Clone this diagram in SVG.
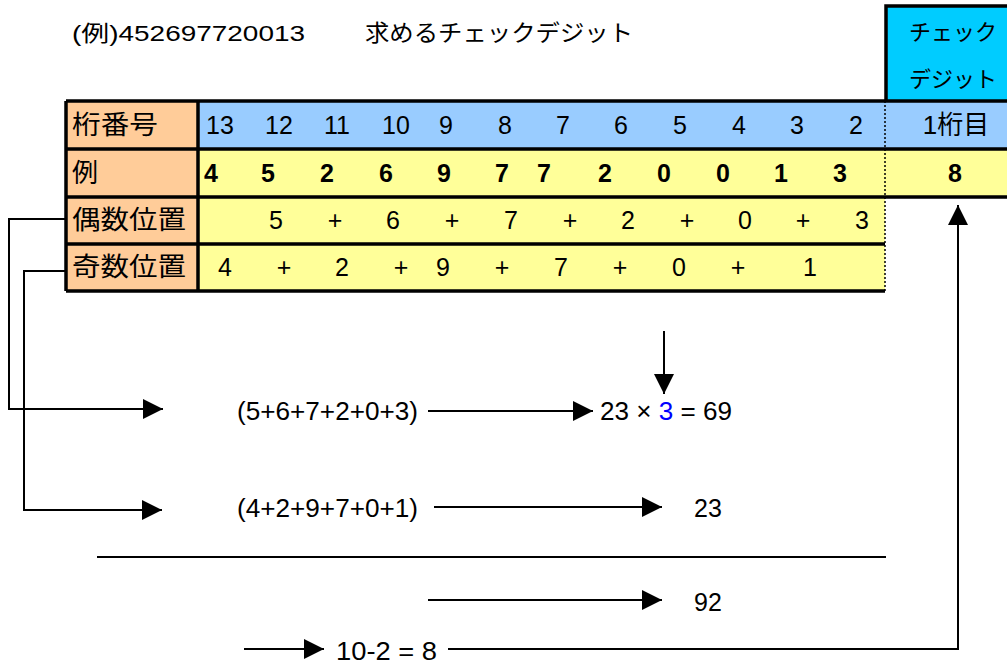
<svg xmlns="http://www.w3.org/2000/svg" width="1007" height="664" viewBox="0 0 1007 664">
<defs>
<style>
text{font-family:"Liberation Sans","Noto Sans CJK JP",sans-serif;fill:#000}
.lbl{font-size:26px}
.d{font-size:25px;text-anchor:middle}
.b{font-size:25px;font-weight:bold;text-anchor:middle}
.f{font-size:25px}
.t{font-size:22px}
.ln{stroke:#000;stroke-width:2;fill:none}
.bd{stroke:#000;stroke-width:3.5;fill:none}
</style>
<marker id="ah" viewBox="0 0 20 20" refX="20" refY="10" markerWidth="20" markerHeight="20" markerUnits="userSpaceOnUse" orient="auto">
<path d="M0,0 L20,10 L0,20 Z" fill="#000"/>
</marker>
</defs>
<rect width="1007" height="664" fill="#fff"/>

<g id="title">
<text x="72" y="41" font-size="22" textLength="233" lengthAdjust="spacingAndGlyphs">(例)452697720013</text>
<text x="365" y="41" font-size="23" textLength="268" lengthAdjust="spacingAndGlyphs">求めるチェックデジット</text>
</g>

<g id="checkdigit-box">
<rect x="886" y="6" width="125" height="95" fill="#00CCFF"/>
<path d="M886,101 L886,6 L1010,6" class="bd"/>
<text x="953" y="40" class="t" text-anchor="middle">チェック</text>
<text x="953" y="87" class="t" text-anchor="middle">デジット</text>
</g>

<g id="table">
<rect x="66" y="101" width="132" height="190" fill="#FFCC99"/>
<rect x="198" y="101" width="812" height="48" fill="#99CCFF"/>
<rect x="198" y="149" width="812" height="48" fill="#FFFF99"/>
<rect x="198" y="197" width="687" height="94" fill="#FFFF99"/>
<path d="M66,101 L1010,101 M66,149 L1010,149 M66,197 L1010,197 M66,244 L885,244 M66,291 L885,291 M66,101 L66,291 M198,101 L198,291" class="bd"/>
<line x1="885" y1="101" x2="885" y2="291" stroke="#000" stroke-width="1.5" stroke-dasharray="2,2"/>
</g>

<g id="row-header">
<text x="72" y="134" class="lbl" textLength="86" lengthAdjust="spacingAndGlyphs">桁番号</text>
<text class="d" y="134"><tspan x="220">13</tspan><tspan x="279">12</tspan><tspan x="337">11</tspan><tspan x="396">10</tspan><tspan x="446">9</tspan><tspan x="505">8</tspan><tspan x="563">7</tspan><tspan x="621">6</tspan><tspan x="680">5</tspan><tspan x="739">4</tspan><tspan x="797">3</tspan><tspan x="856">2</tspan></text>
<text x="956" y="134" class="lbl" text-anchor="middle">1桁目</text>
</g>

<g id="row-example">
<text x="72" y="182" class="lbl">例</text>
<text class="b" y="182"><tspan x="211">4</tspan><tspan x="268">5</tspan><tspan x="327">2</tspan><tspan x="386">6</tspan><tspan x="444">9</tspan><tspan x="502">7</tspan><tspan x="544">7</tspan><tspan x="605">2</tspan><tspan x="664">0</tspan><tspan x="723">0</tspan><tspan x="781">1</tspan><tspan x="840">3</tspan></text>
<text x="955" y="182" class="b">8</text>
</g>

<g id="row-even">
<text x="72" y="229" class="lbl" textLength="114" lengthAdjust="spacingAndGlyphs">偶数位置</text>
<text class="d" y="229"><tspan x="276">5</tspan><tspan x="335">+</tspan><tspan x="393">6</tspan><tspan x="452">+</tspan><tspan x="511">7</tspan><tspan x="570">+</tspan><tspan x="628">2</tspan><tspan x="687">+</tspan><tspan x="745">0</tspan><tspan x="803">+</tspan><tspan x="862">3</tspan></text>
</g>

<g id="row-odd">
<text x="72" y="276" class="lbl" textLength="114" lengthAdjust="spacingAndGlyphs">奇数位置</text>
<text class="d" y="276"><tspan x="225">4</tspan><tspan x="284">+</tspan><tspan x="342">2</tspan><tspan x="401">+</tspan><tspan x="443">9</tspan><tspan x="502">+</tspan><tspan x="561">7</tspan><tspan x="620">+</tspan><tspan x="679">0</tspan><tspan x="738">+</tspan><tspan x="810">1</tspan></text>
</g>

<g id="calc-even">
<text x="237" y="420" class="f" textLength="181" lengthAdjust="spacingAndGlyphs">(5+6+7+2+0+3)</text>
<text x="600" y="420" class="f" textLength="132" lengthAdjust="spacingAndGlyphs">23 × <tspan fill="#0000FF">3</tspan> = 69</text>
</g>
<g id="calc-odd">
<text x="237" y="517" class="f" textLength="181" lengthAdjust="spacingAndGlyphs">(4+2+9+7+0+1)</text>
<text x="694" y="517" class="f">23</text>
</g>
<g id="sum">
<text x="694" y="611" class="f">92</text>
</g>
<g id="result">
<text x="336" y="660" class="f" textLength="101" lengthAdjust="spacingAndGlyphs">10-2 = 8</text>
</g>

<g id="connectors">
<path d="M66,219 L9,219 L9,409 L163,409" class="ln" marker-end="url(#ah)"/>
<path d="M66,271 L24,271 L24,510 L162,510" class="ln" marker-end="url(#ah)"/>
<path d="M428,411 L593,411" class="ln" marker-end="url(#ah)"/>
<path d="M664,331 L664,394" class="ln" marker-end="url(#ah)"/>
<path d="M434,507 L662,507" class="ln" marker-end="url(#ah)"/>
<line x1="97" y1="557" x2="886" y2="557" class="ln"/>
<path d="M428,600 L662,600" class="ln" marker-end="url(#ah)"/>
<path d="M244,649 L324,649" class="ln" marker-end="url(#ah)"/>
<path d="M448,649 L958,649 L958,205" class="ln" marker-end="url(#ah)"/>
</g>
</svg>
